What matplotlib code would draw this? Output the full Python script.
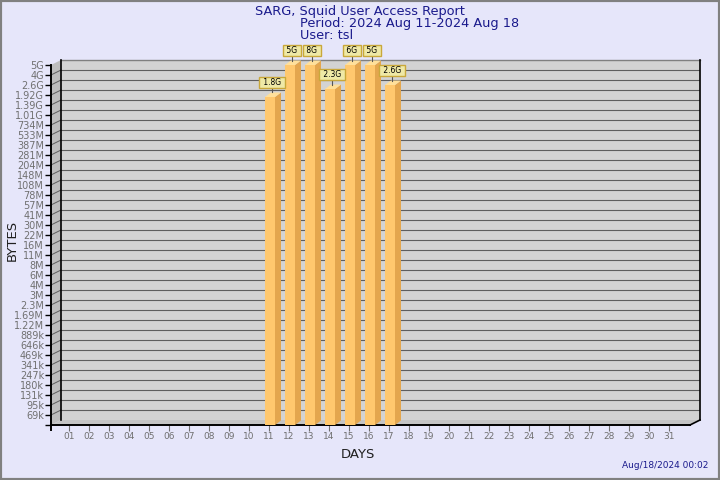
import numpy as np
import matplotlib.pyplot as plt
from matplotlib.patches import Polygon, Rectangle

# data
days = [f'{d:02d}' for d in range(1, 32)]
bar_days = [11, 12, 13, 14, 15, 16, 17]
bar_bytes = [1.8e9, 5e9, 8e9, 2.3e9, 6e9, 5e9, 2.6e9]
bar_labels = ['1.8G', '5G', '8G', '2.3G', '6G', '5G', '2.6G']
y_tick_labels = ['69k', '95k', '131k', '180k', '247k', '341k', '469k', '646k', '889k',
                 '1.22M', '1.69M', '2.3M', '3M', '4M', '6M', '8M', '11M', '16M', '22M',
                 '30M', '41M', '57M', '78M', '108M', '148M', '204M', '281M', '387M',
                 '533M', '734M', '1.01G', '1.39G', '1.92G', '2.6G', '4G', '5G']


def to_bytes(s: str) -> float:
    mult = {'k': 1e3, 'M': 1e6, 'G': 1e9}
    return float(s[:-1]) * mult[s[-1]]


tick_bytes = np.array([to_bytes(s) for s in y_tick_labels])
levels = np.arange(1, len(y_tick_labels) + 1)


def level_of(v: float) -> float:
    # position on the stepped log scale, capped at the top tick
    return np.interp(np.log10(v), np.log10(tick_bytes), levels)


# colors
BG = '#E6E6FA'
NAVY = '#1A1A8C'
WALL = '#D3D3D3'
SIDE_WALL = '#BDBDBD'
GRID = '#5E5E5E'
FRONT, SIDE, TOP = '#FFC86E', '#E3A64E', '#FFE09A'

fig = plt.figure(figsize=(7.2, 4.8), dpi=100, facecolor=BG)
ax = fig.add_axes([51 / 720, 55 / 480, 649 / 720, 365 / 480])
ax.patch.set_visible(False)
for s in ax.spines.values():
    s.set_visible(False)

x0, x1 = 0.1, 32.55
y0, y1 = 0.0, 36.5
DX, DY = 0.5, 0.5
ax.set_xlim(x0, x1)
ax.set_ylim(y0, y1)

# walls and floor
ax.add_patch(Rectangle((x0 + DX, y0 + DY), x1 - x0 - DX, y1 - y0 - DY, fc=WALL, ec='none', zorder=0))
ax.add_patch(Polygon([(x0, y0), (x0 + DX, y0 + DY), (x0 + DX, y1), (x0, y1 - DY)],
                     fc=SIDE_WALL, ec='none', zorder=0))
ax.add_patch(Polygon([(x0, y0), (x0 + DX, y0 + DY), (x1, y0 + DY), (x1 - DX, y0)],
                     fc='#C4C4C4', ec='none', zorder=0))

for lv in levels[:-1]:
    ax.plot([x0 + DX, x1], [lv + DY] * 2, color=GRID, lw=0.8, zorder=1)
    ax.plot([x0, x0 + DX], [lv, lv + DY], color=GRID, lw=0.7, zorder=1)
ax.plot([x0 + DX, x1], [y1, y1], color='#808080', lw=1, zorder=1, clip_on=False)

# frame edges
ax.plot([x0 + DX, x0 + DX], [y0 + DY, y1], color='k', lw=1.2, zorder=2, clip_on=False)
ax.plot([x1, x1], [y0 + DY, y1], color='k', lw=1.2, zorder=2, clip_on=False)
ax.plot([x0, x1 - DX], [y0, y0], color='k', lw=1.4, zorder=2, clip_on=False)
ax.plot([x1 - DX, x1], [y0, y0 + DY], color='k', lw=1.2, zorder=2, clip_on=False)
ax.plot([x0, x0], [-0.5, y1 - DY], color='k', lw=1.4, zorder=2, clip_on=False)

# bars
for d, v, lab in zip(bar_days, bar_bytes, bar_labels):
    h = level_of(v)
    ax.add_patch(Rectangle((d - 0.2, 0), 0.5, h, fc=FRONT, ec='none', zorder=3))
    ax.add_patch(Polygon([(d + 0.3, 0), (d + 0.6, 0.45), (d + 0.6, h + 0.45), (d + 0.3, h)],
                         fc=SIDE, ec='none', zorder=3))
    ax.add_patch(Polygon([(d - 0.2, h), (d + 0.1, h + 0.45), (d + 0.6, h + 0.45), (d + 0.3, h)],
                         fc=TOP, ec='none', zorder=3, clip_on=False))
    ax.plot([d + 0.15] * 2, [h + 0.45, h + 0.95], color='#555555', lw=0.8, zorder=4, clip_on=False)
    ax.text(d + 0.15, h + 1.45, f' {lab} ', ha='center', va='center', fontsize=5.5, color='k', zorder=5,
            bbox=dict(boxstyle='square,pad=0.18', fc='#EFE9A6', ec='#C9A83A', lw=1))

# ticks
ax.set_yticks(np.concatenate([[0], levels]))
ax.set_yticklabels([''] + y_tick_labels)
ax.set_xticks(range(1, 32))
ax.set_xticklabels(days)
ax.tick_params(axis='y', length=4, width=1, color='k', labelsize=7, labelcolor='#707070', pad=1)
ax.tick_params(axis='x', length=4, width=0.8, color='#707070', labelsize=6.5, labelcolor='#707070', pad=1)

# texts
fig.text(0.5, 1 - 15 / 480, 'SARG, Squid User Access Report', ha='center', va='baseline',
         fontsize=9.3, color=NAVY)
fig.text(300 / 720, 1 - 27 / 480, 'Period: 2024 Aug 11-2024 Aug 18', ha='left', va='baseline',
         fontsize=9.3, color=NAVY)
fig.text(300 / 720, 1 - 39 / 480, 'User: tsl', ha='left', va='baseline', fontsize=9.3, color=NAVY)
fig.text(12 / 720, 1 - 240 / 480, 'BYTES', rotation=90, ha='center', va='center', fontsize=9.5, color='#202020')
fig.text(358 / 720, 1 - 455 / 480, 'DAYS', ha='center', va='center', fontsize=9.5, color='#202020')
fig.text(708 / 720, 1 - 466 / 480, 'Aug/18/2024 00:02', ha='right', va='center', fontsize=6.5, color=NAVY)

fig.patches.append(Rectangle((0, 0), 1, 1, transform=fig.transFigure, fill=False, ec='#808080', lw=3))

fig.savefig('out.png', dpi=100, facecolor=fig.get_facecolor())
